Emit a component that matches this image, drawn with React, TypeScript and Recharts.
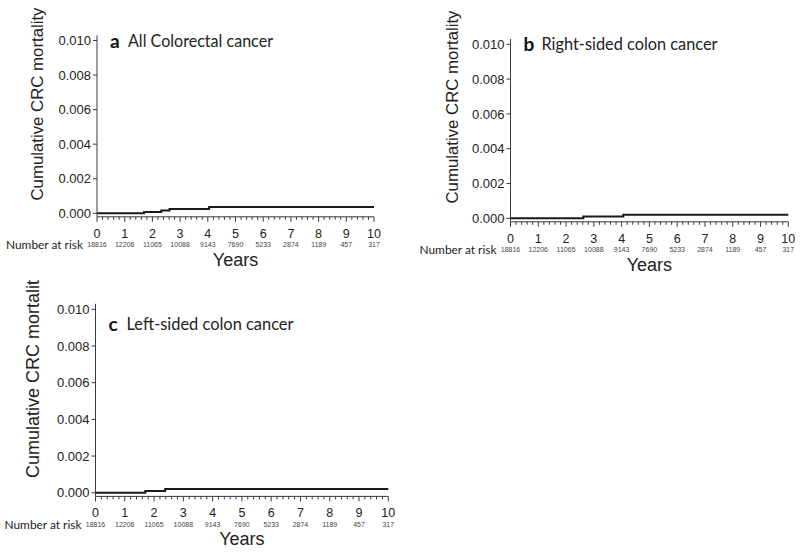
import React from 'react';
import { LineChart, Line, XAxis, YAxis } from 'recharts';

// ---- data ----
const years = [0, 1, 2, 3, 4, 5, 6, 7, 8, 9, 10];
const riskCounts = [18816, 12206, 11065, 10088, 9143, 7690, 5233, 2874, 1189, 457, 317];
const yTicks = [0, 0.002, 0.004, 0.006, 0.008, 0.01];
const xMinorStep = 0.2;

const allTimes = [0, 1.7, 2.32, 2.62, 4.05, 10];
const allCum = [0, 0.00008, 0.00017, 0.00025, 0.00037, 0.00037];

const rightTimes = [0, 2.62, 4.06, 10];
const rightCum = [0, 0.0001, 0.00021, 0.00021];

const leftTimes = [0, 1.7, 2.38, 10];
const leftCum = [0, 0.0001, 0.0002, 0.0002];

const xTicks: number[] = [];
years.forEach((y) => {
  xTicks.push(y);
  if (y < 10) for (let k = 1; k < 5; k++) xTicks.push(+(y + k * xMinorStep).toFixed(2));
});

const toRows = (t: number[], v: number[]) => t.map((time, i) => ({ time, value: v[i] }));

const ARIAL = 'Liberation Sans, Arial, sans-serif';
const CAL = 'Lato, Open Sans, sans-serif';
const AX = '#3a3a3a';

type PanelProps = {
  rows: { time: number; value: number }[];
  x0: number;
  x10: number;
  plotTop: number;
  plotBottom: number;
  letter: string;
  title: string;
  titleY: number;
  titleLen: number;
  yTitle: string;
  yTitleX: number;
  yTitleY: number;
  yTitleLen: number;
  yTitleSize: number;
};

const Panel = (p: PanelProps) => {
  const XTick = (props: any) => {
    const { x, y, payload } = props;
    const v = payload.value as number;
    const idx = Math.round(v);
    const major = Math.abs(v - idx) < 1e-6;
    const ri = years.indexOf(idx);
    return (
      <g>
        <line x1={x} x2={x} y1={y} y2={y + (major ? 5 : 3)} stroke={AX} strokeWidth={1} />
        {major && (
          <text x={x} y={y + 17} textAnchor="middle" dominantBaseline="central" fontFamily={ARIAL} fontSize={12.5} fill="#222">
            {idx}
          </text>
        )}
        {major && ri >= 0 && (
          <text x={x} y={y + 28} textAnchor="middle" dominantBaseline="central" fontFamily={ARIAL} fontSize={7} fill="#444">
            {riskCounts[ri]}
          </text>
        )}
        {major && idx === 0 && (
          <text x={x - 14} y={y + 28} textAnchor="end" dominantBaseline="central" fontFamily={CAL} fontSize={11.5} fill="#222" textLength={77} lengthAdjust="spacingAndGlyphs">
            Number at risk
          </text>
        )}
      </g>
    );
  };

  const yLabel = () => (
    <g>
      <text
        x={p.yTitleX}
        y={p.yTitleY}
        transform={`rotate(-90 ${p.yTitleX} ${p.yTitleY})`}
        textAnchor="middle"
        dominantBaseline="central"
        fontFamily={ARIAL}
        fontSize={p.yTitleSize}
        fill="#222"
        textLength={p.yTitleLen}
        lengthAdjust="spacingAndGlyphs"
      >
        {p.yTitle}
      </text>
      <text x={p.x0 + 13} y={p.titleY} dominantBaseline="central" fontFamily={CAL} fontWeight={700} fontSize={19} fill="#111">
        {p.letter}
      </text>
      <text x={p.x0 + 31} y={p.titleY} dominantBaseline="central" fontFamily={CAL} fontSize={17} fill="#222" textLength={p.titleLen} lengthAdjust="spacingAndGlyphs">
        {p.title}
      </text>
    </g>
  );

  const xLabel = (props: any) => {
    const vb = props.viewBox || {};
    return (
      <text x={(p.x0 + p.x10) / 2} y={(vb.y ?? p.plotBottom) + 43} textAnchor="middle" dominantBaseline="central" fontFamily={ARIAL} fontSize={18} fill="#222">
        Years
      </text>
    );
  };

  return (
    <div style={{ position: 'absolute', left: 0, top: 0, pointerEvents: 'none' }}>
      <LineChart
        width={800}
        height={552}
        data={p.rows}
        margin={{ top: p.plotTop, right: 800 - p.x10, bottom: 0, left: 0 }}
      >
        <XAxis
          dataKey="time"
          type="number"
          domain={[0, 10]}
          ticks={xTicks}
          interval={0}
          tickLine={false}
          tickSize={0}
          tickMargin={0}
          tick={<XTick />}
          axisLine={{ stroke: AX, strokeWidth: 1 }}
          height={552 - p.plotBottom}
          label={{ content: xLabel }}
        />
        <YAxis
          type="number"
          domain={[-0.0002, 0.0103]}
          ticks={yTicks}
          interval={0}
          width={p.x0}
          tickSize={4}
          tickMargin={2}
          tickLine={{ stroke: AX }}
          axisLine={{ stroke: AX, strokeWidth: 1 }}
          tickFormatter={(v: number) => v.toFixed(3)}
          tick={{ fontFamily: ARIAL, fontSize: 13, fill: '#222' }}
          label={{ content: yLabel }}
        />
        <Line
          type="stepAfter"
          dataKey="value"
          stroke="#1a1a1a"
          strokeWidth={2}
          dot={false}
          activeDot={false}
          isAnimationActive={false}
        />
      </LineChart>
    </div>
  );
};

export default function App() {
  return (
    <div style={{ position: 'absolute', left: 0, top: 0, width: 800, height: 552, background: '#fff', overflow: 'hidden' }}>
      <Panel
        rows={toRows(allTimes, allCum)}
        x0={97}
        x10={374}
        plotTop={35.3}
        plotBottom={216.8}
        letter="a"
        title="All Colorectal cancer"
        titleY={40}
        titleLen={145}
        yTitle="Cumulative CRC mortality"
        yTitleX={37}
        yTitleY={104}
        yTitleLen={193}
        yTitleSize={17}
      />
      <Panel
        rows={toRows(rightTimes, rightCum)}
        x0={510.5}
        x10={788.3}
        plotTop={39.1}
        plotBottom={221.8}
        letter="b"
        title="Right-sided colon cancer"
        titleY={43}
        titleLen={176}
        yTitle="Cumulative CRC mortality"
        yTitleX={452}
        yTitleY={107}
        yTitleLen={193}
        yTitleSize={17}
      />
      <Panel
        rows={toRows(leftTimes, leftCum)}
        x0={95.5}
        x10={388.3}
        plotTop={303.8}
        plotBottom={496.4}
        letter="c"
        title="Left-sided colon cancer"
        titleY={323}
        titleLen={167}
        yTitle="Cumulative CRC mortalit"
        yTitleX={33}
        yTitleY={379}
        yTitleLen={198}
        yTitleSize={18}
      />
    </div>
  );
}
